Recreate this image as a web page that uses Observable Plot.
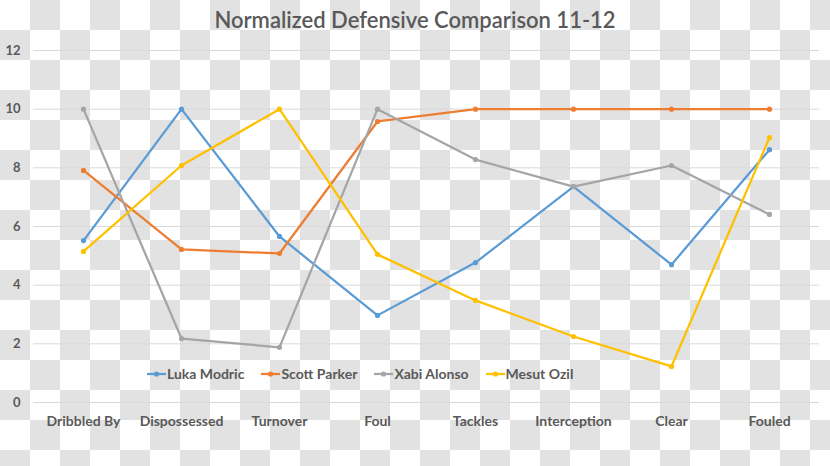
<!DOCTYPE html>
<html>
<head>
<meta charset="utf-8">
<script src="https://cdn.jsdelivr.net/npm/d3@7"></script>
<script src="https://cdn.jsdelivr.net/npm/@observablehq/plot@0.6"></script>
<style>
  html, body { margin: 0; padding: 0; }
  body {
    width: 830px; height: 466px; overflow: hidden; position: relative;
    background-color: #ffffff;
    background-image: conic-gradient(#e2e2e2 0 25%, #ffffff 0 50%, #e2e2e2 0 75%, #ffffff 0);
    background-size: 60px 60px;
    font-family: Lato, "Open Sans", sans-serif;
  }
  #title {
    position: absolute; left: 0; width: 830px; top: 6px; text-align: center;
    font-size: 22px; color: #595959; font-weight: 600;
  }
  #chart { position: absolute; left: 0; top: 0; }
  #legend {
    position: absolute; left: 147px; top: 365px; display: flex; gap: 17px;
    font-size: 14px; font-weight: bold; color: #595959; align-items: center;
  }
  #legend .item { display: flex; align-items: center; gap: 1px; }
</style>
</head>
<body>
<div id="chart"></div>
<div id="title">Normalized Defensive Comparison 11-12</div>
<div id="legend"></div>
<script>
const categories = ["Dribbled By", "Dispossessed", "Turnover", "Foul", "Tackles", "Interception", "Clear", "Fouled"];
const seriesNames = ["Luka Modric", "Scott Parker", "Xabi Alonso", "Mesut Ozil"];
const seriesColors = ["#5B9BD5", "#ED7D31", "#A5A5A5", "#FFC000"];
const lukaModric = [5.52, 10.0, 5.66, 2.97, 4.77, 7.36, 4.70, 8.62];
const scottParker = [7.91, 5.22, 5.08, 9.58, 10.0, 10.0, 10.0, 10.0];
const xabiAlonso = [10.0, 2.18, 1.88, 10.0, 8.28, 7.36, 8.08, 6.41];
const mesutOzil = [5.15, 8.08, 10.0, 5.05, 3.48, 2.25, 1.23, 9.03];
const yTicks = [0, 2, 4, 6, 8, 10, 12];

const seriesValues = [lukaModric, scottParker, xabiAlonso, mesutOzil];
const data = [];
seriesNames.forEach((name, si) => {
  categories.forEach((cat, ci) => {
    data.push({series: name, category: cat, value: seriesValues[si][ci]});
  });
});

const chart = Plot.plot({
  width: 830,
  height: 466,
  marginTop: 50,
  marginBottom: 64,
  marginLeft: 33,
  marginRight: 11,
  style: {background: "transparent", fontFamily: "Lato, sans-serif", fontSize: "13px", fontWeight: "bold", color: "#595959"},
  x: {type: "point", domain: categories, padding: 0.5, label: null},
  y: {domain: [0, 12], label: null},
  color: {domain: seriesNames, range: seriesColors},
  marks: [
    Plot.ruleY(yTicks, {stroke: "#d9d9d9", strokeWidth: 1}),
    Plot.axisY({ticks: yTicks, tickSize: 0, tickPadding: 13, fontSize: 13, label: null}),
    Plot.axisX({tickSize: 0, tickPadding: 14, fontSize: 14, label: null}),
    ...seriesNames.map(name => Plot.line(data.filter(d => d.series === name), {x: "category", y: "value", stroke: "series", strokeWidth: 2.25})),
    ...seriesNames.map(name => Plot.dot(data.filter(d => d.series === name), {x: "category", y: "value", fill: "series", r: 2.6}))
  ]
});
document.getElementById("chart").appendChild(chart);

const legend = document.getElementById("legend");
seriesNames.forEach((name, i) => {
  const item = document.createElement("div");
  item.className = "item";
  item.innerHTML = `<svg width="19" height="8"><line x1="0" y1="4" x2="19" y2="4" stroke="${seriesColors[i]}" stroke-width="2.25"/><circle cx="9.5" cy="4" r="2.6" fill="${seriesColors[i]}"/></svg><span>${name}</span>`;
  legend.appendChild(item);
});
</script>
</body>
</html>
